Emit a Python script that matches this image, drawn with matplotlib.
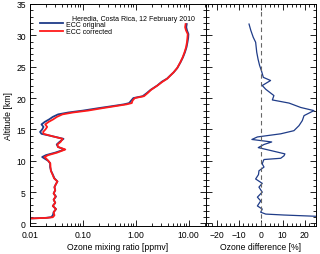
import numpy as np
import matplotlib
matplotlib.use("Agg")
from matplotlib import pyplot as plt
from matplotlib.ticker import MultipleLocator, FixedLocator, FixedFormatter, LogLocator, NullFormatter

plt.rcParams['font.family'] = ['Liberation Sans', 'DejaVu Sans']

# ozone profile (altitude in km, mixing ratio in ppmv)
alt_prof = [0.8, 0.9, 1.0, 1.3, 1.8, 2.3, 2.8, 3.3, 3.8, 4.3, 4.8, 5.3, 5.8, 6.3, 6.7,
            7.2, 7.8, 8.4, 9.0, 9.6, 10.0, 10.4, 10.6, 10.9, 11.3, 11.8, 12.2, 12.6, 13.0,
            13.5, 13.9, 14.3, 14.6, 15.0, 15.4, 15.8, 16.2, 16.6, 17.0, 17.4, 17.7, 18.0,
            18.4, 18.7, 19.0, 19.2, 19.6, 20.0, 20.3, 20.8, 21.3, 22.0, 22.6, 23.1, 23.6,
            24.1, 24.8, 25.7, 26.5, 27.3, 28.1, 28.9, 29.6, 30.2, 30.8, 31.3, 31.8]
o3_original = [0.0100, 0.020, 0.025, 0.027, 0.028, 0.031, 0.027, 0.030, 0.028, 0.031, 0.028,
               0.030, 0.029, 0.031, 0.033, 0.029, 0.027, 0.025, 0.024, 0.024, 0.022, 0.0185,
               0.0170, 0.0200, 0.030, 0.045, 0.034, 0.032, 0.036, 0.043, 0.027, 0.0165,
               0.0155, 0.0170, 0.0180, 0.0165, 0.0190, 0.0230, 0.0270, 0.034, 0.053, 0.10,
               0.20, 0.35, 0.60, 0.75, 0.82, 0.90, 1.35, 1.62, 1.90, 2.55, 3.10, 3.90, 4.50,
               5.20, 6.10, 7.00, 7.80, 8.50, 9.10, 9.50, 9.80, 9.90, 9.30, 9.00, 9.20]
o3_corrected = [0.0100, 0.021, 0.027, 0.029, 0.028, 0.031, 0.027, 0.030, 0.028, 0.0305, 0.028,
                0.030, 0.029, 0.031, 0.033, 0.0285, 0.0267, 0.0248, 0.0244, 0.0242, 0.0222,
                0.0200, 0.0187, 0.0221, 0.0325, 0.0465, 0.0337, 0.0330, 0.0378, 0.0415, 0.0268,
                0.0180, 0.0177, 0.0196, 0.0211, 0.0194, 0.0225, 0.0274, 0.0323, 0.041, 0.065,
                0.124, 0.238, 0.40, 0.67, 0.84, 0.87, 0.96, 1.43, 1.68, 1.94, 2.57, 3.20, 3.95,
                4.52, 5.19, 6.08, 6.95, 7.70, 8.35, 8.93, 9.28, 9.47, 9.60, 8.90, 8.57, 8.75]

# relative difference corrected vs original (%)
alt_diff = [1.0, 1.15, 1.35, 1.5, 1.8, 2.3, 2.8, 3.6, 4.2, 5.0, 5.8, 6.4, 7.1, 7.8, 8.4, 9.0,
            9.5, 10.0, 10.2, 10.4, 10.8, 11.1, 11.6, 12.1, 12.6, 13.0, 13.4, 13.8, 14.3, 14.8,
            15.6, 16.4, 17.2, 18.0, 18.5, 19.2, 19.7, 20.4, 21.4, 22.0, 22.8, 23.3, 24.4,
            25.2, 26.2, 27.3, 28.9, 29.7, 30.8, 31.8]
o3_diff = [40.0, 25.0, 10.6, 2.3, 0.0, 0.7, -1.5, 0.0, -1.5, 0.7, -0.8, 0.7, -2.3, -1.0, -0.8,
           1.5, 0.7, 1.2, 1.5, 9.1, 10.6, 11.0, 5.0, -1.1, 1.5, 5.0, -4.0, -1.5, 9.1, 15.1,
           17.4, 18.9, 19.7, 24.2, 18.2, 12.9, 5.3, 6.0, 2.3, 0.7, 4.5, 1.2, 0.3, -0.5, -1.2,
           -1.8, -2.3, -3.4, -4.5, -5.3]

blue = '#1f3c88'
red = '#ff1a1a'
fs = 6.2

fig = plt.figure(figsize=(3.2, 2.55), dpi=100)
ax1 = fig.add_axes([30/320, 28/255, 175.7/320, 222/255])
ax2 = fig.add_axes([205.7/320, 28/255, 110/320, 222/255])

ax1.plot(o3_original, alt_prof, color=blue, lw=1.3, label='ECC original')
ax1.plot(o3_corrected, alt_prof, color=red, lw=1.3, label='ECC corrected')
ax1.set_xscale('log')
ax1.set_xlim(0.01, 21)
ax1.set_ylim(-0.4, 35)
ax1.xaxis.set_major_locator(FixedLocator([0.01, 0.1, 1, 10]))
ax1.xaxis.set_major_formatter(FixedFormatter(['0.01', '0.10', '1.00', '10.00']))
ax1.xaxis.set_minor_locator(LogLocator(base=10, subs=np.arange(2, 10)))
ax1.xaxis.set_minor_formatter(NullFormatter())
ax1.yaxis.set_major_locator(MultipleLocator(5))
ax1.yaxis.set_minor_locator(MultipleLocator(1))
ax1.set_xlabel('Ozone mixing ratio [ppmv]', fontsize=fs, labelpad=2)
ax1.set_ylabel('Altitude [km]', fontsize=fs, labelpad=2)

ax1.text(0.241, 0.936, 'Heredia, Costa Rica, 12 February 2010', transform=ax1.transAxes,
         fontsize=5, va='center', ha='left')
ax1.legend(loc='upper left', bbox_to_anchor=(0.055, 0.925), fontsize=5, frameon=False,
           handlelength=3.3, handletextpad=0.5, labelspacing=0.1, borderaxespad=0,
           borderpad=0)

ax2.plot(o3_diff, alt_diff, color=blue, lw=0.9)
ax2.axvline(0, color='#666666', lw=0.8, ls=(0, (4, 3)))
ax2.set_xlim(-25, 25)
ax2.set_ylim(-0.4, 35)
ax2.xaxis.set_major_locator(MultipleLocator(10))
ax2.xaxis.set_minor_locator(MultipleLocator(2))
ax2.yaxis.set_major_locator(MultipleLocator(5))
ax2.yaxis.set_minor_locator(MultipleLocator(1))
ax2.set_yticklabels([])
ax2.set_xlabel('Ozone difference [%]', fontsize=fs, labelpad=2)

for ax in (ax1, ax2):
    ax.tick_params(which='both', direction='in', top=True, right=True, labelsize=fs,
                   width=0.6, pad=3)
    ax.tick_params(which='major', length=4)
    ax.tick_params(which='minor', length=2)
    for s in ax.spines.values():
        s.set_linewidth(0.7)
ax2.tick_params(labelleft=False)

fig.savefig('out.png', dpi=100)
